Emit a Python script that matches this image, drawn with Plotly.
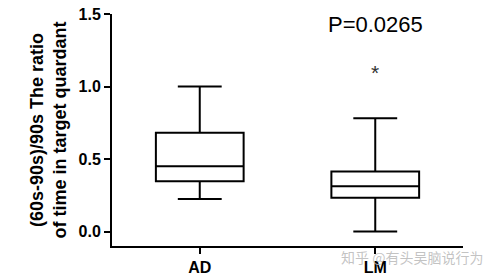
import plotly.graph_objects as go

groups = ["AD", "LM"]
q1 = [0.347, 0.232]
median = [0.45, 0.312]
q3 = [0.681, 0.414]
lower = [0.225, 0.0]
upper = [1.0, 0.781]
y_ticks = [0.0, 0.5, 1.0, 1.5]
p_text = "P=0.0265"
star_y = 1.10

W, H = 499, 280
L, R, T, B = 112, 36, 14, 34

fig = go.Figure()
fig.add_trace(go.Box(
    x=groups, q1=q1, median=median, q3=q3,
    lowerfence=lower, upperfence=upper,
    width=0.5, whiskerwidth=0.5,
    line=dict(color="black", width=2),
    fillcolor="rgba(0,0,0,0)",
    boxpoints=False, showlegend=False, hoverinfo="skip",
))

FONT = "Liberation Sans"
fig.add_annotation(x=groups[1], y=1.43, text=p_text, showarrow=False,
                   font=dict(family=FONT, size=22, color="black"),
                   xref="x", yref="y")
fig.add_annotation(x=groups[1], y=star_y, text="*", showarrow=False,
                   font=dict(family=FONT, size=21, color="#333333"),
                   xref="x", yref="y")
fig.add_annotation(x=(485 - L) / (W - L - R), y=1 - (257 - T) / (H - T - B),
                   xref="paper", yref="paper", text="知乎 @有头吴脑说行为",
                   showarrow=False, xanchor="right", yanchor="middle",
                   font=dict(family="Noto Sans CJK SC", size=14, color="rgba(185,185,185,0.85)"))

fig.update_layout(
    width=W, height=H, autosize=False,
    margin=dict(l=L, r=R, t=T, b=B, autoexpand=False),
    paper_bgcolor="white", plot_bgcolor="white",
    font=dict(family=FONT, color="black"),
    xaxis=dict(
        type="category", range=[-0.5, 1.5], automargin=False,
        showline=True, linecolor="black", linewidth=2,
        ticks="outside", ticklen=6, tickwidth=2, tickcolor="black",
        tickfont=dict(size=16, family=FONT, weight="bold"),
        showgrid=False, zeroline=False,
    ),
    yaxis=dict(
        range=[-0.1, 1.5], tickvals=y_ticks, tickformat=".1f", automargin=False,
        showline=True, linecolor="black", linewidth=2,
        ticks="outside", ticklen=6, tickwidth=2, tickcolor="black",
        tickfont=dict(size=16, family=FONT, weight="bold"),
        showgrid=False, zeroline=False,
        title=dict(text="(60s-90s)/90s The ratio<br>of time in target quardant",
                   font=dict(size=18, family=FONT, weight="bold"),
                   standoff=7),
    ),
)

fig.write_html("out.html")
